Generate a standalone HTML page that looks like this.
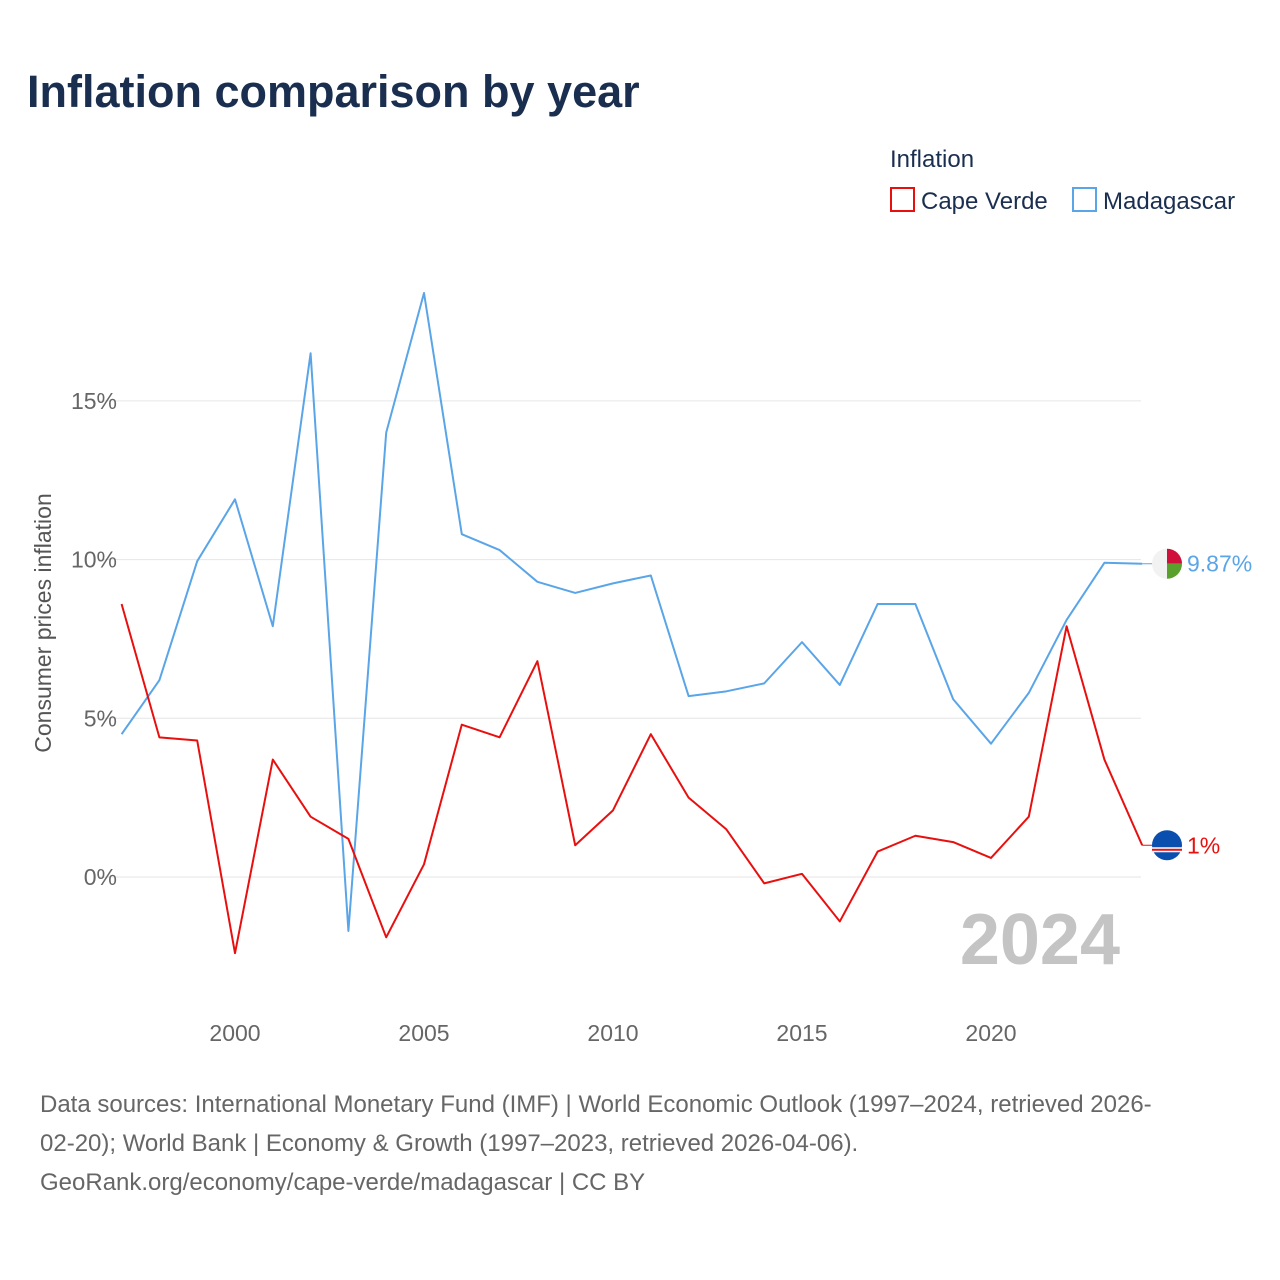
<!DOCTYPE html>
<html><head><meta charset="utf-8">
<style>
html,body{margin:0;padding:0;background:#fff;}
body{width:1280px;height:1280px;position:relative;font-family:"Liberation Sans",sans-serif;overflow:hidden;}
.title{position:absolute;left:27px;top:66px;font-size:45px;font-weight:bold;color:#1a2e4f;}
.src{position:absolute;left:40px;top:1085px;font-size:24px;line-height:39px;color:#666;white-space:nowrap;}
</style></head><body>
<div class="title">Inflation comparison by year</div>
<svg id="chart" width="1280" height="1080" style="position:absolute;left:0;top:0">
<text x="890" y="167" font-size="24" fill="#1a2e4f">Inflation</text>
<g><rect x="891" y="188" width="23" height="23" fill="none" stroke="#e8100f" stroke-width="2"/><text x="921" y="209" font-size="24" fill="#1a2e4f">Cape Verde</text></g>
<g><rect x="1073" y="188" width="23" height="23" fill="none" stroke="#5aa5e8" stroke-width="2"/><text x="1103" y="209" font-size="24" fill="#1a2e4f">Madagascar</text></g>
<text transform="translate(51,623) rotate(-90)" text-anchor="middle" font-size="23" fill="#555">Consumer prices inflation</text>
<text x="1120" y="964" text-anchor="end" font-size="72" font-weight="bold" fill="#c4c4c4">2024</text>
</svg>
<div class="src">Data sources: International Monetary Fund (IMF) | World Economic Outlook (1997–2024, retrieved 2026-<br>02-20); World Bank | Economy &amp; Growth (1997–2023, retrieved 2026-04-06).<br>GeoRank.org/economy/cape-verde/madagascar | CC BY</div>
<script>
const years=[1997,1998,1999,2000,2001,2002,2003,2004,2005,2006,2007,2008,2009,2010,2011,2012,2013,2014,2015,2016,2017,2018,2019,2020,2021,2022,2023,2024];
const madagascar=[4.5,6.2,9.95,11.9,7.9,16.5,-1.7,14.0,18.4,10.8,10.3,9.3,8.95,9.25,9.5,5.7,5.85,6.1,7.4,6.05,8.6,8.6,5.6,4.2,5.8,8.1,9.9,9.87];
const capeVerde=[8.6,4.4,4.3,-2.4,3.7,1.9,1.2,-1.9,0.4,4.8,4.4,6.8,1.0,2.1,4.5,2.5,1.5,-0.2,0.1,-1.4,0.8,1.3,1.1,0.6,1.9,7.9,3.7,1.0];
const yTicks=[0,5,10,15];
const xTicks=[2000,2005,2010,2015,2020];
const NS="http://www.w3.org/2000/svg";
const svg=document.getElementById('chart');
const X=y=>235+(y-2000)*37.8;
const Y=v=>877-v*31.74;
function mk(t,a){const e=document.createElementNS(NS,t);for(const k in a)e.setAttribute(k,a[k]);svg.appendChild(e);return e;}
yTicks.forEach(t=>{
 const l=mk('line',{x1:100,x2:1141,y1:Y(t),y2:Y(t),stroke:'#e6e6e6','stroke-width':1});
 
 
 const tx=mk('text',{x:117,y:Y(t)+8,'text-anchor':'end','font-size':23,fill:'#666'});tx.textContent=t+'%';
 
 
});
xTicks.forEach(t=>{
 const tx=mk('text',{x:X(t),y:1041,'text-anchor':'middle','font-size':23,fill:'#666'});tx.textContent=t;
 
 
});
function series(vals,color,name){
 const p=mk('polyline',{points:vals.map((v,i)=>X(years[i])+','+Y(v)).join(' '),fill:'none',stroke:color,'stroke-width':2,'stroke-linejoin':'round'});
 
 
 const last=vals[vals.length-1],ly=Y(last),lx=X(years[years.length-1]);
 const c=mk('line',{x1:lx,x2:1160,y1:ly,y2:ly,stroke:color,'stroke-width':1});
 
 
 const t=mk('text',{x:1187,y:ly+8,'font-size':23,fill:color});t.textContent=(+last.toFixed(2))+'%';
 
 
 return ly;
}
const my=series(madagascar,'#5aa5e8','madagascar');
const cy=series(capeVerde,'#e8100f','cape-verde');
let g=mk('g',{});


g.innerHTML=`<circle cx="1167" cy="${my}" r="15" fill="#f2f2f2"/><path d="M1167 ${my-15} A15 15 0 0 1 1182 ${my} L1167 ${my}Z" fill="#d0103a"/><path d="M1167 ${my} L1182 ${my} A15 15 0 0 1 1167 ${my+15}Z" fill="#5aa02c"/>`;
g=mk('g',{});


g.innerHTML=`<circle cx="1167" cy="${cy}" r="15" fill="#0a4fae"/><rect x="1152" y="${cy+2}" width="30" height="5" fill="#fff"/><rect x="1152" y="${cy+3.5}" width="30" height="2" fill="#e8100f"/>`;
</script>
</body></html>
